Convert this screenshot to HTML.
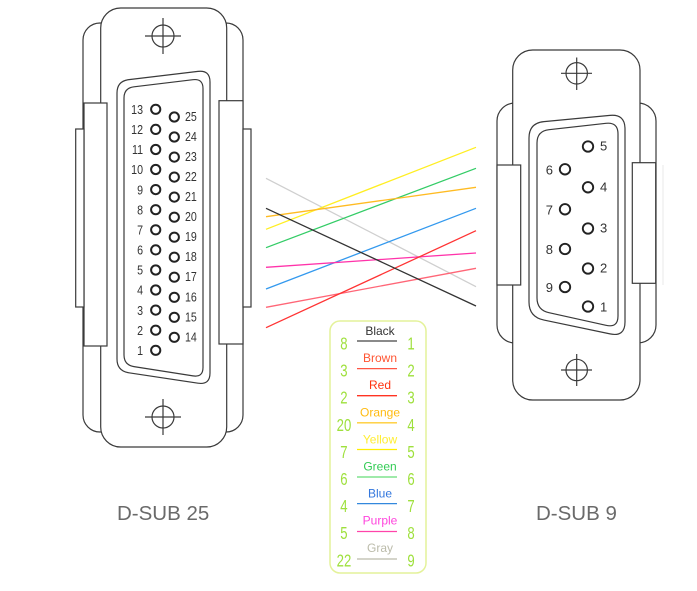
<!DOCTYPE html>
<html>
<head>
<meta charset="utf-8">
<style>
html,body{margin:0;padding:0;background:#fff;}
svg{display:block;}
</style>
</head>
<body>
<svg width="697" height="591" viewBox="0 0 697 591" xmlns="http://www.w3.org/2000/svg" font-family="'Liberation Sans', sans-serif">
<rect x="0" y="0" width="697" height="591" fill="#fff"/>

<!-- ============ LEFT CONNECTOR (D-SUB 25) ============ -->
<g stroke="#3a3a3a" stroke-width="1.2" fill="#fff">
  <rect x="83" y="23" width="160" height="409" rx="17"/>
  <rect x="100.7" y="8" width="126" height="439" rx="20"/>
  <rect x="84" y="103" width="23" height="243"/>
  <rect x="75.7" y="129" width="8.3" height="178"/>
  <rect x="219" y="100.7" width="24" height="243.3"/>
  <rect x="243" y="129" width="8" height="178"/>
  <path d="M117,93 Q117,81 129,79.6 L198,71.4 Q210,70 210,82 L210,373 Q210,385 198,383.2 L129,372.8 Q117,371 117,359 Z"/>
  <path d="M124,98 Q124,88 134,86.8 L193,79.7 Q203,78.5 203,88.5 L203,367.5 Q203,377.5 193,375.9 L134,366.6 Q124,365 124,355 Z"/>
  <!-- mount holes -->
  <circle cx="163" cy="36" r="11"/>
  <line x1="145" y1="36" x2="181" y2="36"/>
  <line x1="163" y1="18" x2="163" y2="54"/>
  <circle cx="163" cy="417" r="11"/>
  <line x1="145" y1="417" x2="181" y2="417"/>
  <line x1="163" y1="399" x2="163" y2="435"/>
</g>
<g stroke="#222" stroke-width="2" fill="#fff">
  <circle cx="155.7" cy="109.3" r="4.6"/>
  <circle cx="155.7" cy="129.4" r="4.6"/>
  <circle cx="155.7" cy="149.5" r="4.6"/>
  <circle cx="155.7" cy="169.5" r="4.6"/>
  <circle cx="155.7" cy="189.6" r="4.6"/>
  <circle cx="155.7" cy="209.7" r="4.6"/>
  <circle cx="155.7" cy="229.8" r="4.6"/>
  <circle cx="155.7" cy="249.9" r="4.6"/>
  <circle cx="155.7" cy="270" r="4.6"/>
  <circle cx="155.7" cy="290" r="4.6"/>
  <circle cx="155.7" cy="310.1" r="4.6"/>
  <circle cx="155.7" cy="330.2" r="4.6"/>
  <circle cx="155.7" cy="350.3" r="4.6"/>
  <circle cx="174.3" cy="117" r="4.6"/>
  <circle cx="174.3" cy="137" r="4.6"/>
  <circle cx="174.3" cy="157.1" r="4.6"/>
  <circle cx="174.3" cy="177.1" r="4.6"/>
  <circle cx="174.3" cy="197.1" r="4.6"/>
  <circle cx="174.3" cy="217.2" r="4.6"/>
  <circle cx="174.3" cy="237.2" r="4.6"/>
  <circle cx="174.3" cy="257.2" r="4.6"/>
  <circle cx="174.3" cy="277.2" r="4.6"/>
  <circle cx="174.3" cy="297.3" r="4.6"/>
  <circle cx="174.3" cy="317.3" r="4.6"/>
  <circle cx="174.3" cy="337.3" r="4.6"/>
</g>
<g transform="scale(0.82,1)" font-size="13" fill="#333">
  <g text-anchor="end">
    <text x="174.4" y="114">13</text>
    <text x="174.4" y="134.1">12</text>
    <text x="174.4" y="154.2">11</text>
    <text x="174.4" y="174.2">10</text>
    <text x="174.4" y="194.3">9</text>
    <text x="174.4" y="214.4">8</text>
    <text x="174.4" y="234.5">7</text>
    <text x="174.4" y="254.6">6</text>
    <text x="174.4" y="274.7">5</text>
    <text x="174.4" y="294.7">4</text>
    <text x="174.4" y="314.8">3</text>
    <text x="174.4" y="334.9">2</text>
    <text x="174.4" y="355">1</text>
  </g>
  <g text-anchor="start">
    <text x="225.6" y="121">25</text>
    <text x="225.6" y="141">24</text>
    <text x="225.6" y="161.1">23</text>
    <text x="225.6" y="181.1">22</text>
    <text x="225.6" y="201.1">21</text>
    <text x="225.6" y="221.2">20</text>
    <text x="225.6" y="241.2">19</text>
    <text x="225.6" y="261.2">18</text>
    <text x="225.6" y="281.2">17</text>
    <text x="225.6" y="301.3">16</text>
    <text x="225.6" y="321.3">15</text>
    <text x="225.6" y="341.3">14</text>
  </g>
</g>

<!-- ============ RIGHT CONNECTOR (D-SUB 9) ============ -->
<g stroke="#3a3a3a" stroke-width="1.2" fill="#fff">
  <rect x="497" y="103" width="159" height="240" rx="18"/>
  <rect x="512.7" y="50" width="127.3" height="350" rx="20"/>
  <rect x="497" y="165" width="23.7" height="120"/>
  <rect x="632.3" y="162.7" width="23.4" height="120.6"/>
  <path d="M529,138 Q529,123 544,121.6 L610,115.4 Q625,114 625,129 L625,322 Q625,337 610,333.9 L544,320.1 Q529,317 529,302 Z"/>
  <path d="M537,143 Q537,131 549,129.7 L606,123.3 Q618,122 618,134 L618,316 Q618,328 606,325.3 L549,312.7 Q537,310 537,298 Z"/>
  <circle cx="576.7" cy="73.3" r="10.7"/>
  <line x1="561" y1="73.3" x2="592" y2="73.3"/>
  <line x1="576.7" y1="57.5" x2="576.7" y2="90"/>
  <circle cx="576.7" cy="370" r="10.7"/>
  <line x1="561" y1="370" x2="592" y2="370"/>
  <line x1="576.7" y1="354" x2="576.7" y2="386"/>
</g>
<line x1="663" y1="165" x2="663" y2="285" stroke="#e8e8e8" stroke-width="1"/>
<g stroke="#222" stroke-width="1.9" fill="#fff">
  <circle cx="565" cy="169.3" r="5.2"/>
  <circle cx="565" cy="209.3" r="5.2"/>
  <circle cx="565" cy="249" r="5.2"/>
  <circle cx="565" cy="287" r="5.2"/>
  <circle cx="588" cy="146.5" r="5.2"/>
  <circle cx="588" cy="187.3" r="5.2"/>
  <circle cx="588" cy="228.5" r="5.2"/>
  <circle cx="588" cy="268.5" r="5.2"/>
  <circle cx="588" cy="306.5" r="5.2"/>
</g>
<g font-size="13" fill="#333">
  <g text-anchor="end">
    <text x="553" y="174.3">6</text>
    <text x="553" y="214.3">7</text>
    <text x="553" y="254">8</text>
    <text x="553" y="292">9</text>
  </g>
  <g text-anchor="start">
    <text x="600" y="150.3">5</text>
    <text x="600" y="191.3">4</text>
    <text x="600" y="232.5">3</text>
    <text x="600" y="272.5">2</text>
    <text x="600" y="311.5">1</text>
  </g>
</g>

<!-- ============ WIRES ============ -->
<g stroke-width="1.3" fill="none">
  <line x1="266" y1="178.3" x2="476" y2="286.7" stroke="#cfcfcf"/>
  <line x1="266" y1="229.3" x2="476" y2="147.3" stroke="#ffee22"/>
  <line x1="266" y1="247.7" x2="476" y2="168.3" stroke="#33cc66"/>
  <line x1="266" y1="216.7" x2="476" y2="187.3" stroke="#ffbb22"/>
  <line x1="266" y1="289" x2="476" y2="208.3" stroke="#3399ee"/>
  <line x1="266" y1="267.3" x2="476" y2="253" stroke="#ff33aa"/>
  <line x1="266" y1="307.3" x2="476" y2="268.3" stroke="#ff6677"/>
  <line x1="266" y1="327.7" x2="476" y2="230.7" stroke="#ff3333"/>
  <line x1="266" y1="208.3" x2="476" y2="306" stroke="#333333"/>
</g>

<!-- ============ LEGEND ============ -->
<rect x="330" y="321" width="96" height="252" rx="10" fill="#fff" stroke="#e4f29a" stroke-width="1.5"/>
<g transform="scale(0.73,1)" font-size="18" fill="#9ee03c" text-anchor="middle">
  <text x="471.2" y="349.5">8</text>
  <text x="471.2" y="376.6">3</text>
  <text x="471.2" y="403.7">2</text>
  <text x="471.2" y="430.8">20</text>
  <text x="471.2" y="457.9">7</text>
  <text x="471.2" y="485">6</text>
  <text x="471.2" y="512.1">4</text>
  <text x="471.2" y="539.2">5</text>
  <text x="471.2" y="566.3">22</text>
  <text x="563" y="349.5">1</text>
  <text x="563" y="376.6">2</text>
  <text x="563" y="403.7">3</text>
  <text x="563" y="430.8">4</text>
  <text x="563" y="457.9">5</text>
  <text x="563" y="485">6</text>
  <text x="563" y="512.1">7</text>
  <text x="563" y="539.2">8</text>
  <text x="563" y="566.3">9</text>
</g>
<g font-size="12" text-anchor="middle">
  <text x="380" y="335" fill="#333">Black</text>
  <text x="380" y="362.1" fill="#ff5533">Brown</text>
  <text x="380" y="389.2" fill="#ff3311">Red</text>
  <text x="380" y="416.3" fill="#ffbb11">Orange</text>
  <text x="380" y="443.4" fill="#ffee33">Yellow</text>
  <text x="380" y="470.5" fill="#33cc55">Green</text>
  <text x="380" y="497.6" fill="#3377dd">Blue</text>
  <text x="380" y="524.7" fill="#ff44dd">Purple</text>
  <text x="380" y="551.8" fill="#bbbbaa">Gray</text>
</g>
<g stroke-width="1.3">
  <line x1="357" y1="341" x2="397" y2="341" stroke="#444"/>
  <line x1="357" y1="368.6" x2="397" y2="368.6" stroke="#ff5544"/>
  <line x1="357" y1="395.7" x2="397" y2="395.7" stroke="#ff3322"/>
  <line x1="357" y1="422.8" x2="397" y2="422.8" stroke="#ffcc33"/>
  <line x1="357" y1="449.5" x2="397" y2="449.5" stroke="#ffee00"/>
  <line x1="357" y1="477" x2="397" y2="477" stroke="#66dd77"/>
  <line x1="357" y1="503.6" x2="397" y2="503.6" stroke="#3388dd"/>
  <line x1="357" y1="531.5" x2="397" y2="531.5" stroke="#ff44aa"/>
  <line x1="357" y1="559" x2="397" y2="559" stroke="#bbbbaa"/>
</g>

<!-- ============ TITLES ============ -->
<text x="117" y="520" font-size="20.5" fill="#6a6a6a">D-SUB 25</text>
<text x="536" y="520" font-size="20.5" fill="#6a6a6a">D-SUB 9</text>
</svg>
</body>
</html>
